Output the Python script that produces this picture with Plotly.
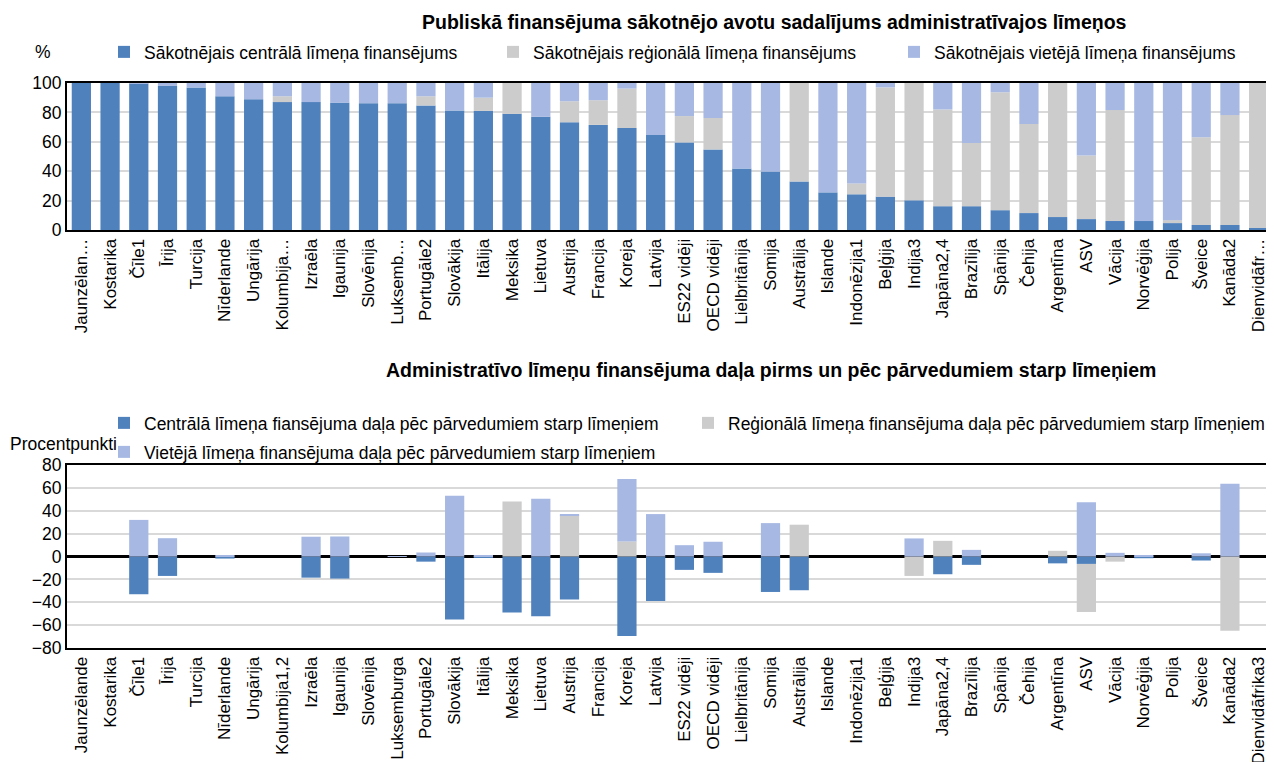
import plotly.graph_objects as go

# ---------------- data ----------------
countries = ["Jaunzēlande", "Kostarika", "Čīle1", "Īrija", "Turcija", "Nīderlande", "Ungārija",
             "Kolumbija1,2", "Izraēla", "Igaunija", "Slovēnija", "Luksemburga", "Portugāle2",
             "Slovākija", "Itālija", "Meksika", "Lietuva", "Austrija", "Francija", "Koreja",
             "Latvija", "ES22 vidēji", "OECD vidēji", "Lielbritānija", "Somija", "Austrālija",
             "Islande", "Indonēzija1", "Beļģija", "Indija3", "Japāna2,4", "Brazīlija", "Spānija",
             "Čehija", "Argentīna", "ASV", "Vācija", "Norvēģija", "Polija", "Šveice", "Kanāda2",
             "Dienvidāfrika3"]
top_labels = ["Jaunzēlan…", "Kostarika", "Čīle1", "Īrija", "Turcija", "Nīderlande", "Ungārija",
              "Kolumbija…", "Izraēla", "Igaunija", "Slovēnija", "Luksemb…", "Portugāle2",
              "Slovākija", "Itālija", "Meksika", "Lietuva", "Austrija", "Francija", "Koreja",
              "Latvija", "ES22 vidēji", "OECD vidēji", "Lielbritānija", "Somija", "Austrālija",
              "Islande", "Indonēzija1", "Beļģija", "Indija3", "Japāna2,4", "Brazīlija", "Spānija",
              "Čehija", "Argentīna", "ASV", "Vācija", "Norvēģija", "Polija", "Šveice", "Kanāda2",
              "Dienvidāfr…"]

# Top chart: initial funding shares (%)
init_central = [100, 100, 99.6, 98, 97, 91, 89, 87, 87, 86.5, 86.3, 86.3, 84.7, 81.3, 81, 79, 77,
                73.3, 71.5, 69.4, 64.7, 59.6, 54.8, 41.8, 39.8, 33, 25.6, 24.3, 22.7, 20.2, 16.2,
                16.2, 13.5, 11.5, 8.8, 7.4, 6.1, 6.1, 4.7, 3.4, 3.4, 1.3]
init_regional = [0, 0, 0, 0, 0, 0, 0, 4, 0, 0, 0, 0, 6.3, 0, 9, 21, 0, 14.3, 16.8, 26.8, 0, 17.9,
                 21.4, 0, 0, 67, 0, 7.4, 74.3, 79.8, 65.8, 42.9, 80.2, 60.6, 91.2, 43.2, 75.5, 0,
                 2, 59.7, 74.8, 98.7]
init_local = [0, 0, 0.4, 2, 3, 9, 11, 9, 13, 13.5, 13.7, 13.7, 9, 18.7, 10, 0, 23, 12.4, 11.7,
              3.8, 35.3, 22.5, 23.8, 58.2, 60.2, 0, 74.4, 68.3, 3, 0, 18, 40.9, 6.3, 27.9, 0,
              49.4, 18.4, 93.9, 93.3, 36.9, 21.8, 0]

# Bottom chart: change after inter-governmental transfers (percentage points)
diff_central = [0, 0, -33, -17, 0, -1.8, 0, 0, -18.5, -19.3, 0, 0, -4.5, -55, -0.5, -49, -52.3,
                -37.7, 0, -69.6, -38.9, -11.7, -14.3, 0, -31, -29.5, 0, 0, 0, 0, -15.5, -7.3, 0,
                0, -6, -6.5, 0, -1.5, 0, -3.5, 0, 0]
diff_regional = [0, 0, 0, 0, 0, 0, 0, 0, 0, 0, 0, 0, 0, 0, 0, 48, 0, 36, 0, 13.2, 0, 0, 0, 0, 0,
                 27.8, 0, 0, 0, -17, 13.7, 0, 0, 0, 5, -42, -4.5, 0, 0, 0, -65, 0]
diff_local = [0, 0, 32, 16, 0, 1, 0, 0, 17.3, 17.5, 0, 0.4, 3.5, 53.2, 0.7, 0, 50.6, 0.8, 0,
              54.6, 37.1, 9.9, 12.9, 0, 29.2, 0, 0, 0, 0, 15.8, 0, 5.8, 0, 0, 0, 47.4, 3.2, 0.6,
              0, 2.8, 63.7, 0]

# ---------------- styling ----------------
C_CENTRAL = "#4F81BD"
C_REGIONAL = "#CCCCCC"
C_LOCAL = "#A7B9E3"
FONT = "Liberation Sans, Arial, sans-serif"
FS = 17.5
XFS = 17
TFS = 19.5
W, H = 1274, 762
OFF = 8  # page body margin

def px_x(p):
    return (p - OFF) / W

def px_y(p):
    return 1 - (p - OFF) / H

fig = go.Figure()

top_series = [
    ("Sākotnējais centrālā līmeņa finansējums", init_central, C_CENTRAL, "legend"),
    ("Sākotnējais reģionālā līmeņa finansējums", init_regional, C_REGIONAL, "legend2"),
    ("Sākotnējais vietējā līmeņa finansējums", init_local, C_LOCAL, "legend3"),
]
for name, vals, col, lg in top_series:
    fig.add_trace(go.Bar(x=countries, y=vals, name=name, marker=dict(color=col, line=dict(width=0)),
                         xaxis="x", yaxis="y", legend=lg, showlegend=True))

bot_series = [
    ("Centrālā līmeņa fiansējuma daļa pēc pārvedumiem starp līmeņiem", diff_central, C_CENTRAL, "legend4"),
    ("Reģionālā līmeņa finansējuma daļa pēc pārvedumiem starp līmeņiem", diff_regional, C_REGIONAL, "legend5"),
    ("Vietējā līmeņa finansējuma daļa pēc pārvedumiem starp līmeņiem", diff_local, C_LOCAL, "legend6"),
]
for name, vals, col, lg in bot_series:
    fig.add_trace(go.Bar(x=countries, y=vals, name=name, marker=dict(color=col, line=dict(width=0)),
                         xaxis="x2", yaxis="y2", legend=lg, showlegend=True))

xdom = [px_x(67), px_x(1273)]
axis_common = dict(showline=True, linecolor="black", linewidth=2, mirror=True, automargin=False,
                   ticks="")
xtf = dict(tickfont=dict(family=FONT, size=XFS, color="black"))
ytf = dict(tickfont=dict(family=FONT, size=FS, color="black"))

legend_common = dict(orientation="h", xanchor="left", yanchor="middle", bgcolor="rgba(0,0,0,0)",
                     font=dict(family=FONT, size=FS, color="black"), borderwidth=0)

fig.update_layout(
    width=W, height=H,
    margin=dict(l=0, r=0, t=0, b=0, autoexpand=False),
    showlegend=True,
    paper_bgcolor="white", plot_bgcolor="white",
    barmode="relative", bargap=0.33,
    font=dict(family=FONT, size=FS, color="black"),
    xaxis=dict(domain=xdom, anchor="y", tickangle=-90, tickmode="array", tickvals=countries,
               ticktext=top_labels, showgrid=False, **axis_common, **xtf),
    yaxis=dict(domain=[px_y(230), px_y(83)], anchor="x", range=[0, 100], dtick=20,
               showgrid=True, gridcolor="#D9D9D9", gridwidth=1.5, zeroline=False,
               **axis_common, **ytf),
    xaxis2=dict(domain=xdom, anchor="y2", tickangle=-90, showgrid=False, **axis_common, **xtf),
    yaxis2=dict(domain=[px_y(648), px_y(465)], anchor="x2", range=[-80, 80], dtick=20,
                showgrid=True, gridcolor="#D9D9D9", gridwidth=1.5, zeroline=True,
                zerolinecolor="black", zerolinewidth=2.5, **axis_common, **ytf),
    legend=dict(x=px_x(104), y=px_y(52), **legend_common),
    legend2=dict(x=px_x(493), y=px_y(52), **legend_common),
    legend3=dict(x=px_x(894), y=px_y(52), **legend_common),
    legend4=dict(x=px_x(104), y=px_y(423), **legend_common),
    legend5=dict(x=px_x(688), y=px_y(423), **legend_common),
    legend6=dict(x=px_x(104), y=px_y(452), **legend_common),
    annotations=[
        dict(text="<b>Publiskā finansējuma sākotnējo avotu sadalījums administratīvajos līmeņos</b>",
             x=px_x(774), y=px_y(22), xref="paper", yref="paper", showarrow=False,
             xanchor="center", yanchor="middle", font=dict(family=FONT, size=TFS, color="black")),
        dict(text="<b>Administratīvo līmeņu finansējuma daļa pirms un pēc pārvedumiem starp līmeņiem</b>",
             x=px_x(771), y=px_y(370), xref="paper", yref="paper", showarrow=False,
             xanchor="center", yanchor="middle", font=dict(family=FONT, size=TFS, color="black")),
        dict(text="%", x=px_x(43), y=px_y(52), xref="paper", yref="paper", showarrow=False,
             xanchor="center", yanchor="middle", font=dict(family=FONT, size=FS, color="black")),
        dict(text="Procentpunkti", x=px_x(8), y=px_y(444), xref="paper", yref="paper", showarrow=False,
             xanchor="left", yanchor="middle", font=dict(family=FONT, size=FS, color="black")),
    ],
)

fig.write_html("out.html")
